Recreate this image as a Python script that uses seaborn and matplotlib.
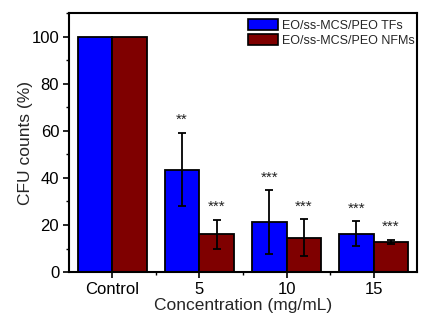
import matplotlib
matplotlib.use("Agg")
import matplotlib.pyplot as plt
from matplotlib.ticker import MultipleLocator, FixedLocator
from matplotlib.patches import Patch
import numpy as np
import pandas as pd
import seaborn as sns

# Data
categories = ["Control", "5", "10", "15"]
series_names = ["EO/ss-MCS/PEO TFs", "EO/ss-MCS/PEO NFMs"]
tf_mean = [100, 43.5, 21.2, 16.3]
tf_sd = [0, 15.5, 13.5, 5.2]
nfm_mean = [100, 16.0, 14.6, 12.8]
nfm_sd = [0, 6.2, 7.8, 1.0]
tf_sig = ["", "**", "***", "***"]
nfm_sig = ["", "***", "***", "***"]

colors = ["#0000FF", "#7F0000"]

df = pd.DataFrame({
    "Concentration": categories * 2,
    "Group": [series_names[0]] * len(categories) + [series_names[1]] * len(categories),
    "CFU": tf_mean + nfm_mean,
})

sns.set_style("white")
plt.rcParams["font.family"] = ["Liberation Sans", "DejaVu Sans"]

fig = plt.figure(figsize=(4.39, 3.24), dpi=100)
ax = fig.add_axes([0.157, 0.160, 0.793, 0.800])

sns.barplot(data=df, x="Concentration", y="CFU", hue="Group",
            order=categories, hue_order=series_names, palette=colors,
            edgecolor="black", linewidth=1.3, errorbar=None, width=0.8,
            saturation=1, ax=ax, legend=False)

# Error bars and significance marks, placed at each bar's center
n = len(categories)
bars = ax.patches[:2 * n]
means = tf_mean + nfm_mean
sds = tf_sd + nfm_sd
sigs = tf_sig + nfm_sig
for bar, m, s, sig in zip(bars, means, sds, sigs):
    xc = bar.get_x() + bar.get_width() / 2
    if s > 0:
        ax.errorbar(xc, m, yerr=s, fmt="none", ecolor="black",
                    elinewidth=1.3, capsize=3, capthick=1.3)
    if sig:
        ax.text(xc, m + s + 2.5, sig, ha="center", va="bottom",
                fontsize=11, color="#222222")

ax.set_xlim(-0.5, 3.5)
ax.set_ylim(0, 110)
ax.yaxis.set_major_locator(MultipleLocator(20))
ax.yaxis.set_minor_locator(MultipleLocator(10))
ax.xaxis.set_minor_locator(FixedLocator([0.5, 1.5, 2.5]))

ax.tick_params(axis="both", which="major", direction="out", length=4,
               width=1.2, labelsize=12, color="black", labelcolor="black",
               left=True, bottom=True, pad=3)
ax.tick_params(axis="both", which="minor", direction="out", length=2.5,
               width=1.0, color="black", left=True, bottom=True)

for sp in ax.spines.values():
    sp.set_visible(True)
    sp.set_color("black")
    sp.set_linewidth(1.5)

ax.set_xlabel("Concentration (mg/mL)", fontsize=12.5, labelpad=1)
ax.set_ylabel("CFU counts (%)", fontsize=12.5, labelpad=-1)

handles = [Patch(facecolor=c, edgecolor="black", linewidth=1.2) for c in colors]
ax.legend(handles, series_names, loc="upper right", frameon=False,
          fontsize=9, borderaxespad=0.1, handlelength=2.4, handleheight=0.9,
          handletextpad=0.3, labelspacing=0.2, bbox_to_anchor=(1.01, 1.0))

fig.savefig("out.png", dpi=100)
